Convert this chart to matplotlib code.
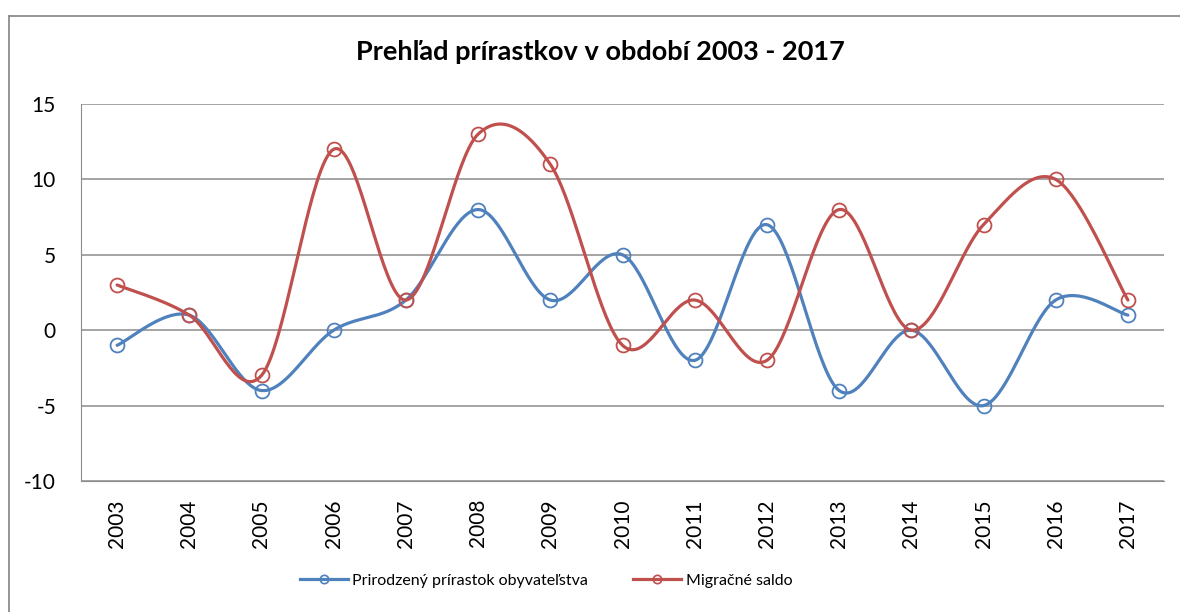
import numpy as np
from matplotlib import pyplot as plt
from matplotlib.lines import Line2D

years = ["2003", "2004", "2005", "2006", "2007", "2008", "2009", "2010",
         "2011", "2012", "2013", "2014", "2015", "2016", "2017"]
prirodzeny = [-1, 1, -4, 0, 2, 8, 2, 5, -2, 7, -4, 0, -5, 2, 1]
migracne = [3, 1, -3, 12, 2, 13, 11, -1, 2, -2, 8, 0, 7, 10, 2]

plt.rcParams['font.family'] = ['Lato', 'DejaVu Sans']
plt.rcParams['axes.unicode_minus'] = False

BLUE = '#4f81bd'
RED = '#c0504d'


def smooth(x, y, n=40):
    # Excel-like smoothed line: Catmull-Rom segments as cubic Bezier
    x = np.asarray(x, float)
    y = np.asarray(y, float)
    px = np.concatenate([[x[0]], x, [x[-1]]])
    py = np.concatenate([[y[0]], y, [y[-1]]])
    t = np.linspace(0, 1, n)
    xs, ys = [], []
    for i in range(1, len(px) - 2):
        p0 = np.array([px[i], py[i]])
        p3 = np.array([px[i + 1], py[i + 1]])
        c1 = p0 + (np.array([px[i + 1], py[i + 1]]) - np.array([px[i - 1], py[i - 1]])) / 6
        c2 = p3 - (np.array([px[i + 2], py[i + 2]]) - np.array([px[i], py[i]])) / 6
        b = ((1 - t) ** 3)[:, None] * p0 + (3 * (1 - t) ** 2 * t)[:, None] * c1 \
            + (3 * (1 - t) * t ** 2)[:, None] * c2 + (t ** 3)[:, None] * p3
        xs.append(b[:, 0])
        ys.append(b[:, 1])
    return np.concatenate(xs), np.concatenate(ys)


fig = plt.figure(figsize=(11.8, 6.12), dpi=100)
ax = fig.add_axes([81 / 1180, 1 - 481 / 612, (1164 - 81) / 1180, (481 - 104) / 612])

x = np.arange(len(years))
for vals, col in [(prirodzeny, BLUE), (migracne, RED)]:
    sx, sy = smooth(x, vals)
    ax.plot(sx, sy, color=col, lw=2.3, solid_capstyle='round', zorder=3)
    ax.plot(x, vals, 'o', color=col, mfc='none', mew=1.3, ms=10, zorder=4)

ax.set_xlim(-0.5, len(years) - 0.5)
ax.set_ylim(-10, 15)
ax.set_yticks(range(-10, 16, 5))
ax.set_xticks(x)
ax.set_xticklabels(years, rotation=90)
ax.yaxis.grid(True, color='#8c8c8c', lw=1.1)
ax.set_axisbelow(True)
ax.tick_params(axis='both', length=0, labelsize=15)
ax.tick_params(axis='y', pad=18)
ax.tick_params(axis='x', pad=13)
for s in ['top', 'right']:
    ax.spines[s].set_visible(False)
ax.spines['left'].set_color('#8c8c8c')
ax.spines['bottom'].set_color('#8c8c8c')

fig.text(600 / 1180, 1 - 52 / 612, "Prehľad prírastkov v období 2003 - 2017",
         ha='center', va='center', fontsize=19.5, fontweight='bold')

handles = [Line2D([], [], color=BLUE, lw=2.3, marker='o', mfc='none', ms=6, mew=1.2),
           Line2D([], [], color=RED, lw=2.3, marker='o', mfc='none', ms=6, mew=1.2)]
fig.legend(handles, ["Prirodzený prírastok obyvateľstva", "Migračné saldo"],
           loc='center', bbox_to_anchor=(546 / 1180, 1 - 581 / 612), ncol=2,
           frameon=False, fontsize=11.5, handlelength=3.0, handletextpad=0.3,
           columnspacing=2.8)

# outer chart frame (only top and left visible)
fig.add_artist(Line2D([9 / 1180, 9 / 1180], [0, 1 - 16 / 612], transform=fig.transFigure,
                      color='#8c8c8c', lw=1.3))
fig.add_artist(Line2D([9 / 1180, 1], [1 - 16 / 612, 1 - 16 / 612], transform=fig.transFigure,
                      color='#8c8c8c', lw=1.3))

fig.savefig('out.png', dpi=100)
